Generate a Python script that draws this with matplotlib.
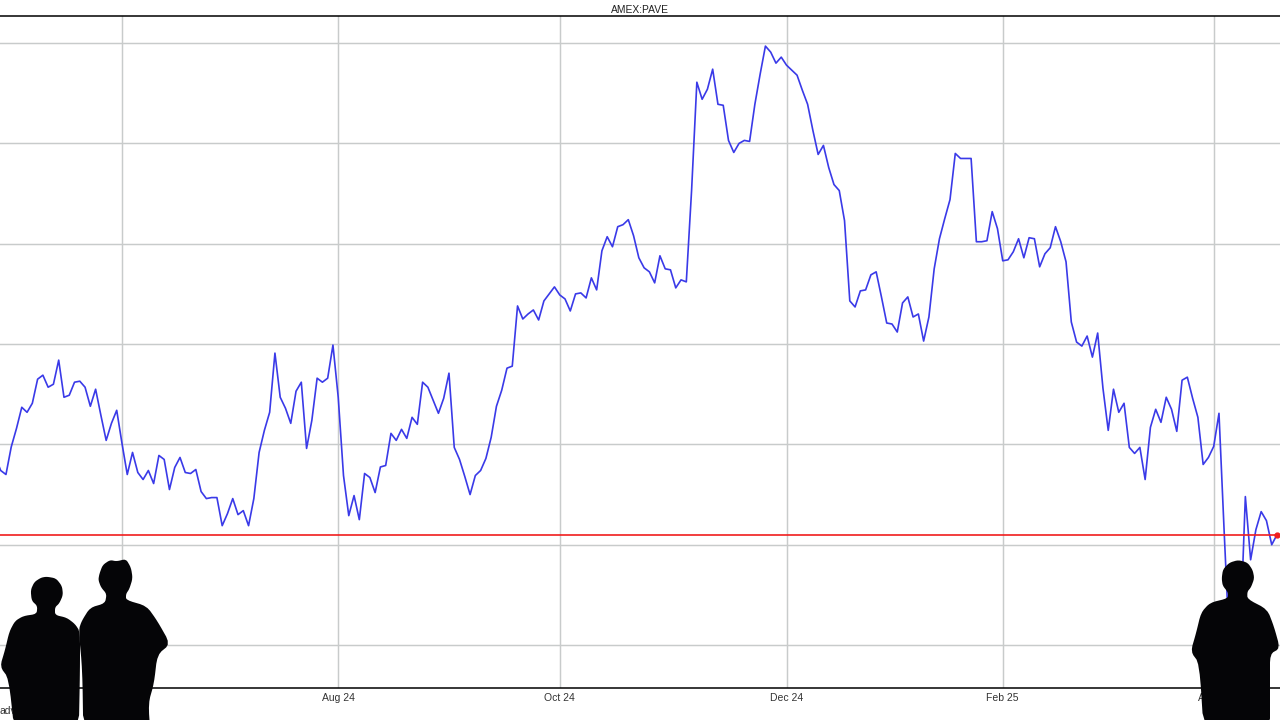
# AMEX:PAVE daily price chart with silhouettes in front

import numpy as np
import matplotlib
matplotlib.use("Agg")
import matplotlib.pyplot as plt
from matplotlib.patches import Polygon
from matplotlib.transforms import Affine2D

# -------------------------------
# 1. Data
# -------------------------------
prices = [
    39.875, 39.74, 39.70, 39.975, 40.16, 40.37, 40.32, 40.41, 40.65, 40.69,
    40.57, 40.60, 40.84, 40.47, 40.49, 40.62, 40.63, 40.57, 40.38, 40.55,
    40.29, 40.04, 40.21, 40.34, 40.01, 39.70, 39.92, 39.72, 39.65, 39.74,
    39.61, 39.89, 39.85, 39.55, 39.77, 39.87, 39.72, 39.71, 39.75, 39.53,
    39.46, 39.47, 39.47, 39.19, 39.31, 39.46, 39.30, 39.34, 39.19, 39.46,
    39.92, 40.14, 40.32, 40.91, 40.47, 40.36, 40.21, 40.53, 40.62, 39.96,
    40.24, 40.66, 40.62, 40.66, 40.99, 40.47, 39.69, 39.29, 39.49, 39.25,
    39.71, 39.67, 39.52, 39.775, 39.79, 40.11, 40.04, 40.15, 40.06, 40.27,
    40.20, 40.62, 40.57, 40.44, 40.31, 40.46, 40.71, 39.97, 39.85, 39.68,
    39.50, 39.69, 39.74, 39.86, 40.07, 40.38, 40.54, 40.76, 40.78, 41.38,
    41.25, 41.30, 41.34, 41.24, 41.43, 41.50, 41.57, 41.49, 41.45, 41.33,
    41.50, 41.51, 41.46, 41.66, 41.54, 41.93, 42.07, 41.97, 42.17, 42.19,
    42.24, 42.08, 41.86, 41.76, 41.72, 41.61, 41.88, 41.75, 41.74, 41.56,
    41.64, 41.62, 42.53, 43.61, 43.44, 43.54, 43.74, 43.39, 43.38, 43.03,
    42.91, 43.00, 43.03, 43.02, 43.39, 43.69, 43.97, 43.91, 43.80, 43.86,
    43.78, 43.73, 43.68, 43.53, 43.39, 43.13, 42.89, 42.98, 42.76, 42.59,
    42.53, 42.23, 41.43, 41.37, 41.53, 41.54, 41.69, 41.72, 41.47, 41.21,
    41.20, 41.12, 41.41, 41.47, 41.27, 41.30, 41.03, 41.27, 41.75, 42.05,
    42.25, 42.44, 42.90, 42.85, 42.85, 42.85, 42.02, 42.02, 42.03, 42.32,
    42.15, 41.83, 41.84, 41.92, 42.05, 41.86, 42.06, 42.05, 41.77, 41.90,
    41.96, 42.17, 42.02, 41.82, 41.22, 41.02, 40.98, 41.08, 40.87, 41.11,
    40.56, 40.14, 40.55, 40.32, 40.41, 39.97, 39.91, 39.97, 39.65, 40.17,
    40.35, 40.22, 40.47, 40.35, 40.13, 40.64, 40.67, 40.46, 40.27, 39.80,
    39.87, 39.98, 40.31, 39.11, 37.97, 38.20, 38.05, 39.48, 38.85, 39.15,
    39.33, 39.24, 39.00, 39.10,
]
last_price = 39.10

tick_days = [24, 65, 107, 150, 191, 231]
tick_labels = ["Jun 24", "Aug 24", "Oct 24", "Dec 24", "Feb 25", "Apr 25"]
price_grid = [38, 39, 40, 41, 42, 43, 44]

# -------------------------------
# 2. Chart
# -------------------------------
plt.rcParams["font.family"] = ["Liberation Sans", "DejaVu Sans"]

fig = plt.figure(figsize=(12.8, 7.2), dpi=100, facecolor="white")
ax = fig.add_axes([0, 32 / 720, 1, 672 / 720])

days = np.arange(len(prices))
ax.plot(days, prices, color="#3a3ae8", lw=1.2, zorder=3)
ax.axhline(last_price, color="#f01e1e", lw=1.2, zorder=4)
ax.plot(days[-1], last_price, "o", color="#f01e1e", ms=3.5, zorder=5, clip_on=False)

ax.set_xlim(0.87, 243.57)
ax.set_ylim(37.572, 44.27)
ax.set_xticks(tick_days)
ax.set_xticklabels(tick_labels, fontsize=7.5, color="#333333")
ax.set_yticks(price_grid)
ax.set_yticklabels([])
ax.tick_params(length=0, pad=3.5)
ax.grid(True, color="#c8cbcb", lw=1.05)
ax.set_axisbelow(True)

for side in ["left", "right"]:
    ax.spines[side].set_visible(False)
for side in ["top", "bottom"]:
    ax.spines[side].set_linewidth(1.1)
    ax.spines[side].set_color("black")

ax.set_title("AMEX:PAVE", fontsize=7.4, color="#222222", pad=2.5)
fig.text(0, 1 - 711 / 720, "adv", fontsize=7.5, color="#333333", va="center")

# -------------------------------
# 3. Silhouettes (picture pixels, y down)
# -------------------------------
to_fig = Affine2D().scale(1 / 1280, -1 / 720).translate(0, 1) + fig.transFigure


def zoomed(points, x0, y0):
    return [(x0 + x / 3, y0 + y / 3) for x, y in points]


# corner cutting so the outlines come out round
def rounded(points, rounds=2):
    pts = np.array(points, dtype=float)
    for _ in range(rounds):
        nxt = np.roll(pts, -1, axis=0)
        pts = np.column_stack([0.8 * pts + 0.2 * nxt, 0.2 * pts + 0.8 * nxt]).reshape(-1, 2)
    return pts


left_person = [
    (140, 80), (168, 85), (186, 108), (189, 135), (178, 160), (165, 172), (165, 195),
    (200, 203), (225, 222), (240, 245), (240, 360), (236, 560), (45, 560), (26, 385),
    (0, 350), (15, 300), (28, 245), (45, 213), (70, 198), (110, 192), (112, 168),
    (95, 152), (92, 120), (103, 96), (123, 83),
]
middle_person = [
    (330, 30), (350, 34), (378, 27), (393, 53), (398, 85), (388, 117), (378, 132),
    (378, 150), (440, 168), (472, 213), (511, 282), (472, 314), (462, 400), (445, 460),
    (452, 560), (250, 560), (247, 360), (236, 240), (245, 213), (270, 173), (315, 160),
    (320, 132), (303, 112), (295, 90), (298, 72), (308, 45),
]
right_person = [
    (415, 570), (443, 578), (458, 600), (463, 625), (453, 652), (442, 665), (442, 687),
    (502, 718), (522, 770), (540, 835), (510, 852), (510, 930), (510, 1100), (312, 1100),
    (298, 880), (272, 845), (288, 790), (303, 728), (330, 698), (384, 685), (384, 667),
    (368, 647), (365, 625), (369, 598), (388, 578),
]

for shape in [zoomed(left_person, 0, 550), zoomed(middle_person, 0, 550),
              zoomed(right_person, 1100, 370)]:
    fig.add_artist(Polygon(rounded(shape), closed=True, facecolor="#050507", edgecolor="none",
                           transform=to_fig, zorder=10))

fig.savefig("out.png", dpi=100)
